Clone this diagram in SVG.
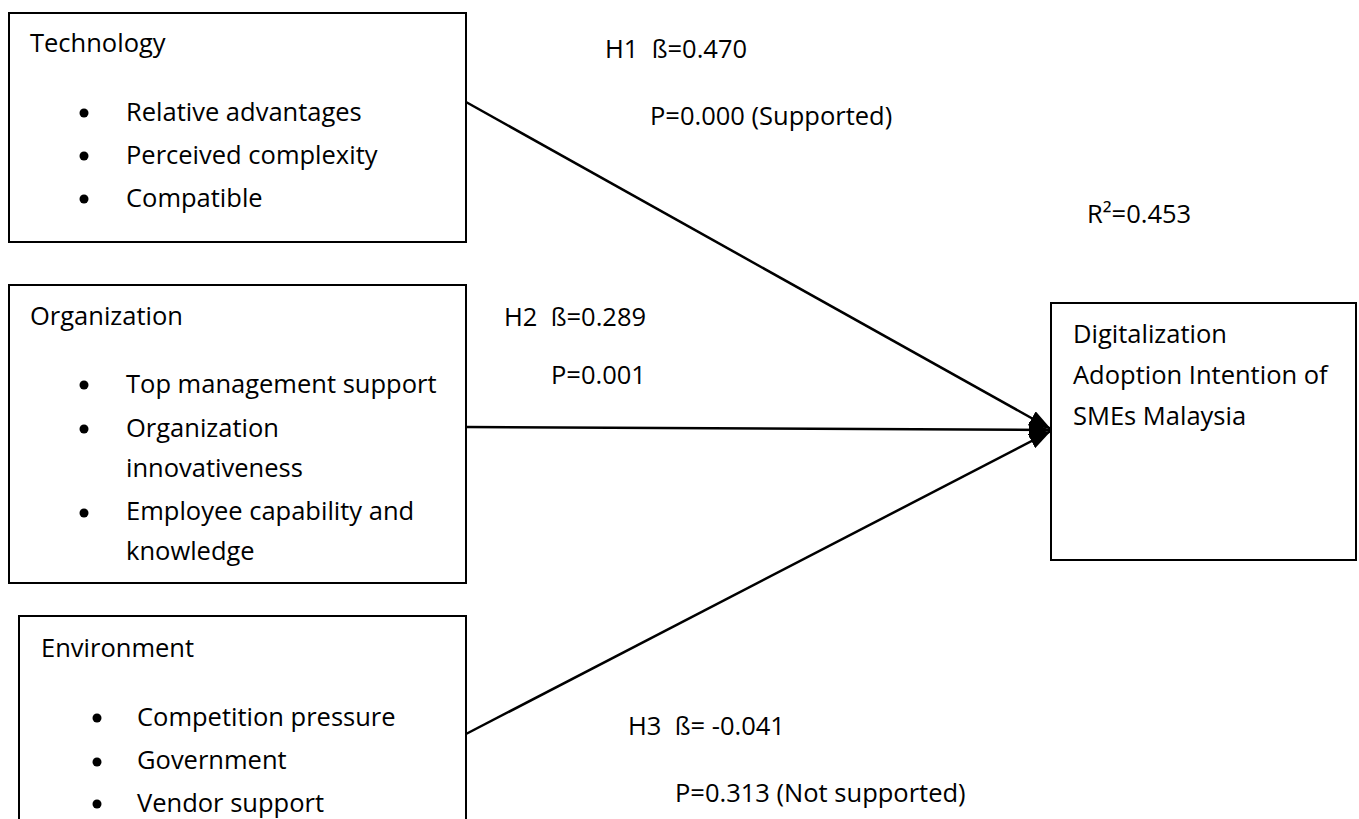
<svg xmlns="http://www.w3.org/2000/svg" width="1359" height="819" viewBox="0 0 1359 819">
  <style>
    .box { fill: #ffffff; stroke: #000000; stroke-width: 2; }
    .t { font-family: "Open Sans", "Noto Sans", "Liberation Sans", sans-serif; font-size: 25.5px; fill: #000000; }
    .dot { fill: #000000; }
    .link { stroke: #000000; stroke-width: 2.5; fill: none; marker-end: url(#head); }
  </style>
  <defs>
    <marker id="head" markerUnits="userSpaceOnUse" markerWidth="22" markerHeight="16" refX="22" refY="8" orient="auto">
      <path d="M0,0 L22,8 L0,16 Z" fill="#000000"/>
    </marker>
  </defs>
  <rect width="1359" height="819" fill="#ffffff"/>

  <!-- Technology construct -->
  <g id="technology">
    <rect class="box" x="9" y="13" width="457" height="229"/>
    <text class="t" x="30" y="52">Technology</text>
    <circle class="dot" cx="84" cy="113" r="4.5"/>
    <text class="t" x="126" y="121">Relative advantages</text>
    <circle class="dot" cx="84" cy="156" r="4.5"/>
    <text class="t" x="126" y="164">Perceived complexity</text>
    <circle class="dot" cx="84" cy="199" r="4.5"/>
    <text class="t" x="126" y="207">Compatible</text>
  </g>

  <!-- Organization construct -->
  <g id="organization">
    <rect class="box" x="9" y="285" width="457" height="298"/>
    <text class="t" x="30" y="325">Organization</text>
    <circle class="dot" cx="84" cy="385" r="4.5"/>
    <text class="t" x="126" y="393">Top management support</text>
    <circle class="dot" cx="84" cy="429" r="4.5"/>
    <text class="t" x="126" y="437">Organization</text>
    <text class="t" x="126" y="477">innovativeness</text>
    <circle class="dot" cx="84" cy="513" r="4.5"/>
    <text class="t" x="126" y="520">Employee capability and</text>
    <text class="t" x="126" y="560">knowledge</text>
  </g>

  <!-- Environment construct -->
  <g id="environment">
    <rect class="box" x="19" y="616" width="447" height="230"/>
    <text class="t" x="41" y="657">Environment</text>
    <circle class="dot" cx="97" cy="718" r="4.5"/>
    <text class="t" x="137" y="726">Competition pressure</text>
    <circle class="dot" cx="97" cy="762" r="4.5"/>
    <text class="t" x="137" y="769">Government</text>
    <circle class="dot" cx="97" cy="804" r="4.5"/>
    <text class="t" x="137" y="812">Vendor support</text>
  </g>

  <!-- Outcome construct -->
  <g id="adoption">
    <rect class="box" x="1051" y="303" width="305" height="257"/>
    <text class="t" x="1073" y="343">Digitalization</text>
    <text class="t" x="1073" y="384">Adoption Intention of</text>
    <text class="t" x="1073" y="425">SMEs Malaysia</text>
  </g>

  <!-- Structural paths -->
  <g id="connectors">
    <line class="link" x1="466" y1="102" x2="1051" y2="429"/>
    <line class="link" x1="466" y1="427" x2="1051" y2="430"/>
    <line class="link" x1="466" y1="734" x2="1051" y2="431"/>
  </g>

  <!-- Path coefficients -->
  <g id="labels">
    <text class="t" x="605" y="58" xml:space="preserve">H1  ß=0.470</text>
    <text class="t" x="650" y="125">P=0.000 (Supported)</text>
    <text class="t" x="1087" y="223">R²=0.453</text>
    <text class="t" x="504" y="326" xml:space="preserve">H2  ß=0.289</text>
    <text class="t" x="551" y="384">P=0.001</text>
    <text class="t" x="628" y="735" xml:space="preserve">H3  ß= -0.041</text>
    <text class="t" x="675" y="802">P=0.313 (Not supported)</text>
  </g>
</svg>
